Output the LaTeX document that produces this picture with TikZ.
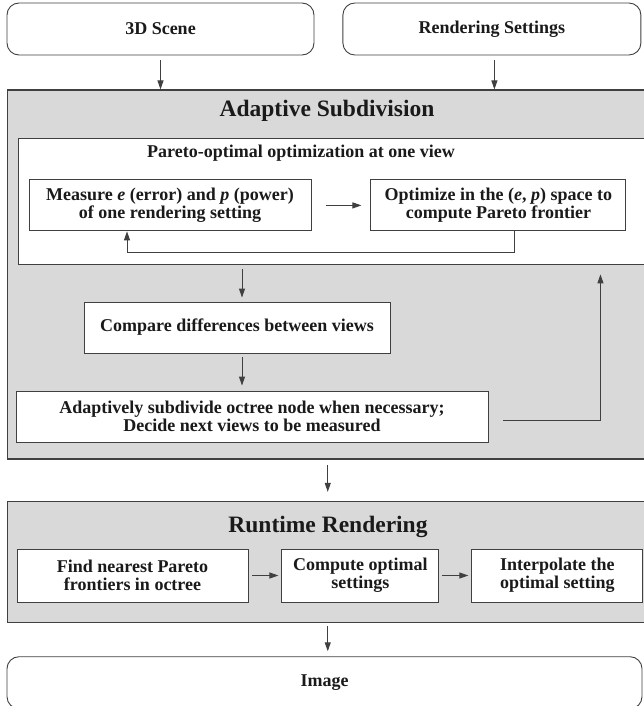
\documentclass[tikz,border=0pt]{standalone}
\usepackage{fontspec}
\setmainfont{Liberation Serif}
\usepackage{tikz}
\usetikzlibrary{arrows.meta,positioning}
\definecolor{ink}{HTML}{1A1A1A}
\definecolor{edge}{HTML}{404040}
\definecolor{panelgray}{HTML}{D9D9D9}

\begin{document}
\begin{tikzpicture}[x=1pt, y=-1pt,
      box/.style={draw=edge, line width=0.9pt, fill=white, minimum height=51pt, align=center, inner sep=0pt, font=\fontsize{18}{18}\selectfont\bfseries, text=ink},
      ends/.style={box, rounded corners=12pt, minimum height=52pt},
      panel/.style={draw=edge, line width=1.4pt, fill=panelgray, inner sep=0pt},
      heading/.style={font=\fontsize{23.5}{26}\selectfont\bfseries, text=ink},
      subhead/.style={font=\fontsize{18}{18}\selectfont\bfseries, text=ink},
      arr/.style={-{Triangle[length=9pt, width=6pt]}, draw=edge, line width=1pt}
    ]
    \useasboundingbox (0,0) rectangle (643,706);

    \node[ends, minimum width=307pt] (scene) at (160.5,29) {3D Scene};
    \node[ends, minimum width=298pt, right=28pt of scene] (settings) {Rendering Settings};

    \node[panel, minimum width=641pt, minimum height=369pt, below right=34pt and 0pt of scene.south west] (adapt) {};
    \node[heading] (adapthead) at (327,111) {Adaptive Subdivision};
    \node[box, minimum width=630pt, minimum height=126pt, below right=49pt and 11pt of adapt.north west] (pareto) {};
    \node[subhead] (paretohead) at (301,153) {Pareto-optimal optimization at one view};
    \node[box, minimum width=282pt, below right=41pt and 11pt of pareto.north west] (measure) {Measure \textit{e} (error) and \textit{p} (power)\\of one rendering setting};
    \node[box, minimum width=255pt, right=59pt of measure] (optimize) {Optimize in the (\textit{e}, \textit{p}) space to\\compute Pareto frontier};
    \node[box, minimum width=306pt] (compare) at (237,327.5) {Compare differences between views};
    \node[box, minimum width=472pt] (subdiv) at (252,416.5) {Adaptively subdivide octree node when necessary;\\Decide next views to be measured};

    \node[panel, minimum width=641pt, minimum height=121pt, below right=41pt and 0pt of adapt.south west] (runtime) {};
    \node[heading] (runtimehead) at (328,527) {Runtime Rendering};
    \node[box, minimum width=231pt, minimum height=53pt] (find) at (132.5,575.5) {Find nearest Pareto\\frontiers in octree};
    \node[box, minimum width=157pt, minimum height=53pt, right=33pt of find] (compute) {Compute optimal\\settings};
    \node[box, minimum width=171pt, minimum height=53pt, right=32pt of compute] (interp) {Interpolate the\\optimal setting};

    \node[ends, minimum width=635pt, below right=33pt and 0pt of runtime.south west] (image) {Image};

    \coordinate (midline) at ([xshift=5pt]compare.north);
    \coordinate (upline) at ([xshift=112pt]subdiv.east);

    \draw[arr, shorten <=5pt] (scene) -- (scene |- adapt.north);
    \draw[arr, shorten <=5pt] ([xshift=2.5pt]settings.south) -- ([xshift=2.5pt]settings.south |- adapt.north);
    \draw[arr, shorten <=15pt, shorten >=9pt] (measure) -- (optimize);
    \draw[arr] ([xshift=16.5pt]optimize.south) -- ++(0,21) -| ([xshift=-43pt]measure.south);
    \draw[arr, shorten <=4pt, shorten >=4pt] (midline |- pareto.south) -- (midline);
    \draw[arr, shorten <=4pt, shorten >=5pt] (midline |- compare.south) -- (midline |- subdiv.north);
    \draw[arr, shorten >=9pt] ([xshift=15pt, yshift=-3.5pt]subdiv.east) -| (upline |- pareto.south);
    \draw[arr, shorten <=5pt, shorten >=9pt] (adapt.south) -- (adapt.south |- runtime.north);
    \draw[arr, shorten <=4pt, shorten >=3pt] (find) -- (compute);
    \draw[arr, shorten <=3pt, shorten >=3pt] (compute) -- (interp);
    \draw[arr, shorten <=3pt, shorten >=5pt] (runtime.south) -- (runtime.south |- image.north);
  \end{tikzpicture}
\end{document}
